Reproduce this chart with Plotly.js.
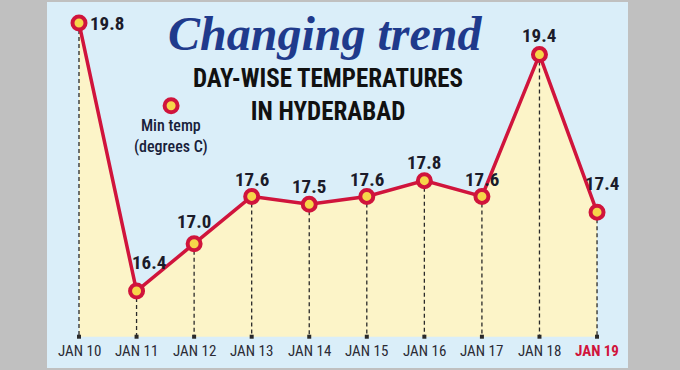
<!DOCTYPE html>
<html><head><meta charset="utf-8">
<script src="https://cdn.plot.ly/plotly-3.0.1.min.js"></script>
<style>html,body{margin:0;padding:0;background:#c0c0c0;}</style>
</head><body>
<div id="chart" style="width:680px;height:370px;"></div>
<script>
const days = ["JAN 10","JAN 11","JAN 12","JAN 13","JAN 14","JAN 15","JAN 16","JAN 17","JAN 18","JAN 19"];
const minTemp = [19.8, 16.4, 17.0, 17.6, 17.5, 17.6, 17.8, 17.6, 19.4, 17.4];
const valueLabels = ["19.8","16.4","17.0","17.6","17.5","17.6","17.8","17.6","19.4","17.4"];
const baseTemp = 15.82;

const idx = days.map((d,i)=>i);
const base = idx.map(()=>baseTemp);

const RED = "#d0143c";
const COND = "'Roboto Condensed','Roboto',sans-serif";

// drop lines: point -> baseline, separated by gaps
const dropX = [], dropY = [];
idx.forEach(i => { dropX.push(i, i, null); dropY.push(minTemp[i], baseTemp, null); });

const traces = [
  {x: idx, y: base, mode: "lines", line: {width: 0, color: "rgba(0,0,0,0)"}, hoverinfo: "skip", showlegend: false},
  {x: idx, y: minTemp, mode: "lines", fill: "tonexty", fillcolor: "#fcf4c8", line: {width: 0}, hoverinfo: "skip", showlegend: false},
  {x: dropX, y: dropY, mode: "lines", line: {color: "#2a2a2a", width: 1.3, dash: "4px,3px"}, connectgaps: false, hoverinfo: "skip", showlegend: false},
  {x: idx, y: base, mode: "markers", marker: {symbol: "square", size: 4, color: "#2a2a2a"}, hoverinfo: "skip", showlegend: false},
  {x: idx, y: minTemp, mode: "lines+markers", line: {color: RED, width: 3.5},
   marker: {size: 13, color: "#f6d64a", line: {color: RED, width: 4}}, showlegend: false},
  {x: [1.6], y: [18.75], mode: "markers", marker: {size: 13, color: "#f6d64a", line: {color: RED, width: 4}},
   hoverinfo: "skip", showlegend: false}
];

// value-label offsets (style)
const lx = [28, 12, 0, 0, 0, 0, 0, 0, 0, 5];
const ly = [0, 29, 22, 17, 18, 17, 18, 17, 19, 29];

const annotations = [];
idx.forEach(i => {
  annotations.push({x: i, y: minTemp[i], xref: "x", yref: "y", text: "<b>" + valueLabels[i] + "</b>", showarrow: false,
    xshift: lx[i], yshift: ly[i], xanchor: "center", yanchor: "middle",
    font: {family: COND, size: 19, color: "#1b1b2a"}});
  const last = i === days.length - 1;
  annotations.push({x: i, y: baseTemp, xref: "x", yref: "y", text: last ? "<b>" + days[i] + "</b>" : days[i], showarrow: false,
    yshift: -14, xanchor: "center", yanchor: "middle",
    font: {family: COND, size: 15, color: last ? RED : "#2b2b35"}});
});
annotations.push({xref: "paper", yref: "paper", x: 0.4785, y: 0.915, xanchor: "center", yanchor: "middle",
  text: "<i><b>Changing trend</b></i>", showarrow: false,
  font: {family: "'Liberation Serif','Times New Roman',serif", size: 48, color: "#1f3a8c"}});
annotations.push({xref: "paper", yref: "paper", x: 0.4836, y: 0.746, xanchor: "center", yanchor: "middle",
  text: "<b>DAY-WISE TEMPERATURES<br>IN HYDERABAD</b>", showarrow: false,
  font: {family: COND, size: 25, color: "#111"}, align: "center"});
annotations.push({xref: "paper", yref: "paper", x: 0.2134, y: 0.634, xanchor: "center", yanchor: "middle",
  text: "Min temp<br>(degrees C)", showarrow: false,
  font: {family: COND, size: 16, color: "#18213a", weight: 500}, align: "center"});

const layout = {
  width: 680, height: 370,
  margin: {l: 47, r: 52, t: 2, b: 2},
  paper_bgcolor: "#c0c0c0",
  plot_bgcolor: "#daeef9",
  xaxis: {range: [-0.556, 9.538], showgrid: false, zeroline: false, showticklabels: false, ticks: "", fixedrange: true},
  yaxis: {range: [15.423, 20.067], showgrid: false, zeroline: false, showticklabels: false, ticks: "", fixedrange: true},
  annotations: annotations,
  showlegend: false
};

Plotly.newPlot("chart", traces, layout, {displayModeBar: false, staticPlot: true});
</script>
</body></html>
